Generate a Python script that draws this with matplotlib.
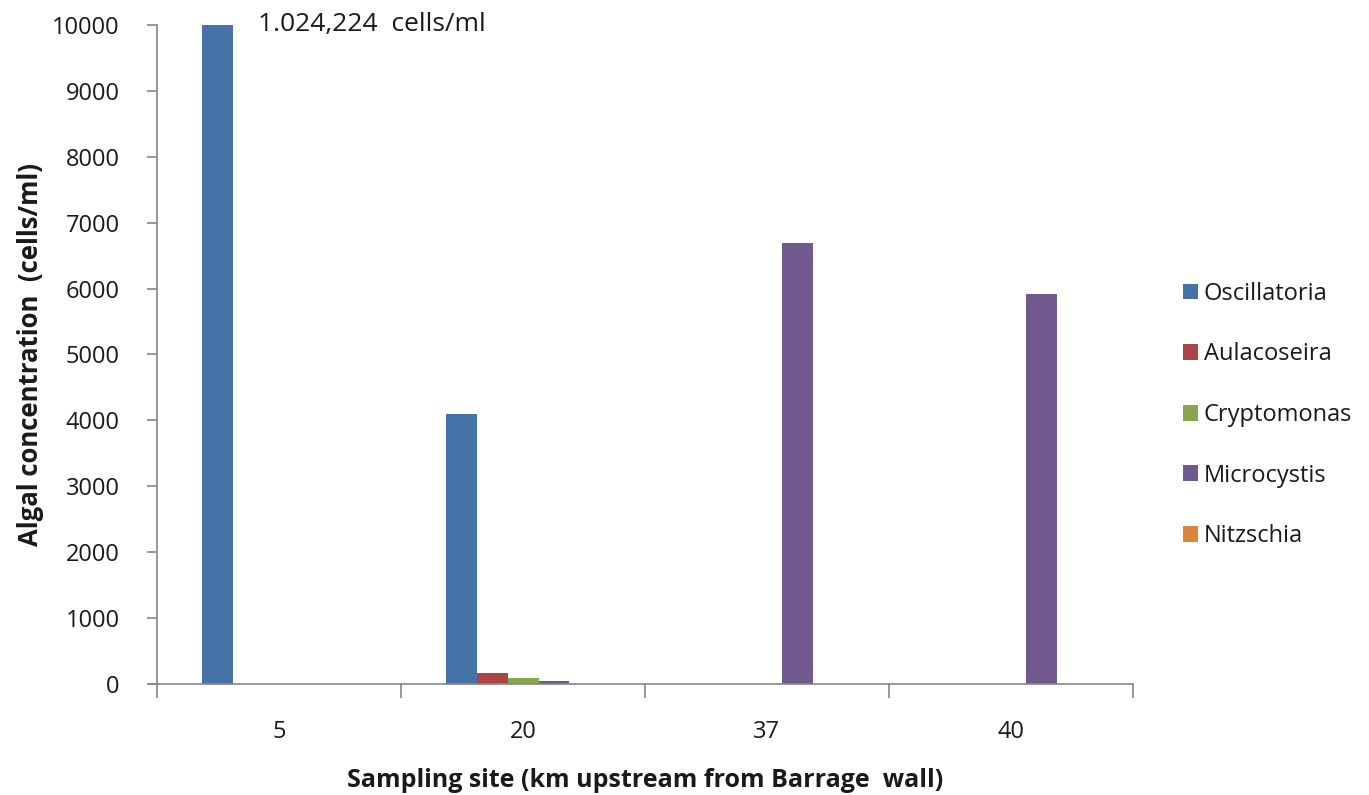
import matplotlib
matplotlib.use("Agg")
import matplotlib.pyplot as plt
from matplotlib.patches import Patch
import numpy as np

plt.rcParams['font.family'] = ['Open Sans', 'DejaVu Sans']

# Sampling sites (km upstream from the barrage wall)
sites = ["5", "20", "37", "40"]
taxa = ["Oscillatoria", "Aulacoseira", "Cryptomonas", "Microcystis", "Nitzschia"]

# Algal concentration, cells/ml, per site
oscillatoria = [1024224, 4100, 0, 0]
aulacoseira = [0, 170, 0, 0]
cryptomonas = [0, 90, 0, 0]
microcystis = [0, 45, 6690, 5920]
nitzschia = [0, 0, 0, 0]

colors = ["#4572A7", "#AA4643", "#89A54E", "#71588F", "#DB843D"]
series = [oscillatoria, aulacoseira, cryptomonas, microcystis, nitzschia]

fig = plt.figure(figsize=(13.69, 7.95), dpi=100)
ax = fig.add_axes([0.1147, 0.1396, 0.8276 - 0.1147, 0.9686 - 0.1396])

x = np.arange(len(sites))
w = 0.127
for i, (vals, c) in enumerate(zip(series, colors)):
    ax.bar(x + (i - 2) * w, vals, width=w, color=c, edgecolor='none', zorder=2)

ax.set_xlim(-0.5, len(sites) - 0.5)
ax.set_ylim(0, 10000)
ax.set_yticks(np.arange(0, 10001, 1000))

axis_gray = "#868686"
for s in ["top", "right"]:
    ax.spines[s].set_visible(False)
ax.spines["left"].set_color(axis_gray)
ax.spines["bottom"].set_color(axis_gray)
ax.spines["left"].set_linewidth(1.2)
ax.spines["bottom"].set_linewidth(1.2)
ax.spines["bottom"].set_bounds(-0.5 - 7 / 244, len(sites) - 0.5)

ax.tick_params(axis='y', direction='out', length=7, width=1.2, color=axis_gray,
               labelsize=17, pad=20, labelcolor="#1a1a1a")
ax.set_xticks(x)
ax.set_xticklabels(sites)
ax.tick_params(axis='x', which='major', length=0, labelsize=17, pad=26,
               labelcolor="#1a1a1a")
ax.set_xticks(np.arange(-0.5, len(sites), 1.0), minor=True)
ax.tick_params(axis='x', which='minor', direction='out', length=10, width=1.2,
               color=axis_gray)

ax.set_ylabel("Algal concentration  (cells/ml)", fontsize=18.5, fontweight='bold',
              labelpad=6, color="#1a1a1a")
ax.set_xlabel("Sampling site (km upstream from Barrage  wall)", fontsize=18,
              fontweight='bold', labelpad=17, color="#1a1a1a")

# Off-scale value of the first bar
ax.text(-0.086, 10000, "1.024,224  cells/ml", fontsize=19, ha='left', va='center',
        color="#1a1a1a")

handles = [Patch(facecolor=c, edgecolor='none') for c in colors]
leg = fig.legend(handles, taxa, loc='center left', bbox_to_anchor=(0.857, 0.478),
                 frameon=False, fontsize=17, handlelength=0.65, handleheight=0.65,
                 handletextpad=0.25, labelspacing=1.55, borderaxespad=0)
for t in leg.get_texts():
    t.set_color("#1a1a1a")

fig.savefig("out.png", dpi=100)
